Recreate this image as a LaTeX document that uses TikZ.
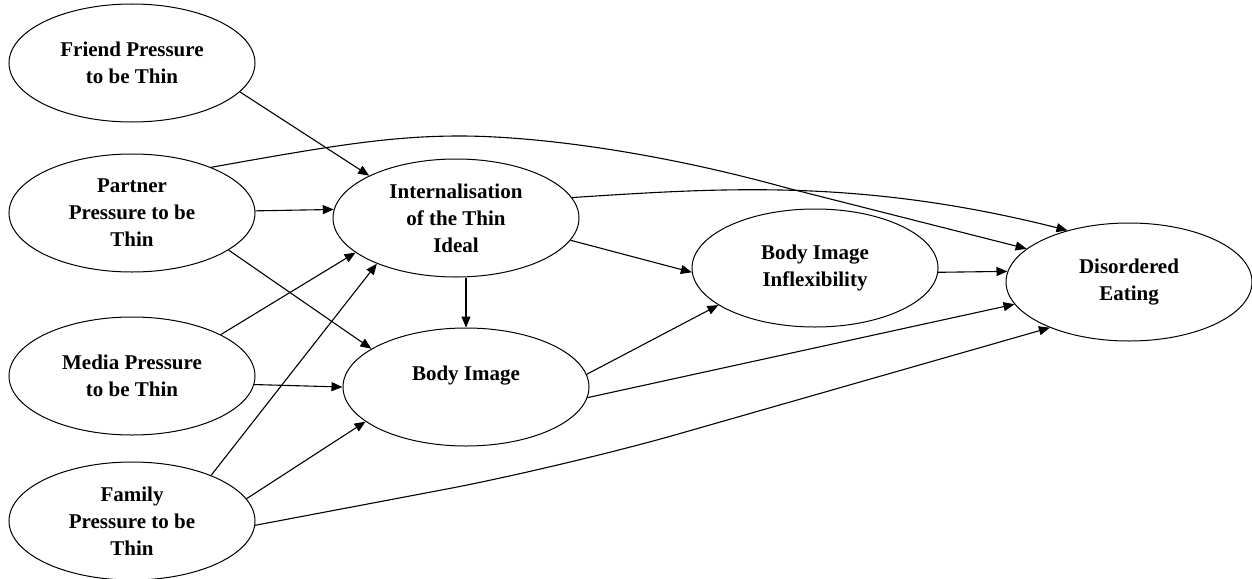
\documentclass[tikz,border=0pt]{standalone}
\usepackage{fontspec}
\setmainfont{Liberation Serif}
\usetikzlibrary{arrows.meta,shapes.geometric}
\begin{document}
\begin{tikzpicture}[x=1pt,y=-1pt,
  var/.style={draw, ellipse, line width=1pt, minimum width=246pt, minimum height=118pt,
    inner sep=0pt, align=center, font=\bfseries\fontsize{21}{27}\selectfont},
  conn/.style={line width=1.1pt, -{Triangle[length=11pt,width=9pt]}}
]
\useasboundingbox (0,0) rectangle (1252,578);
\node[var] (F) at (132,63) {Friend Pressure\\to be Thin};
\node[var] (P) at (132,213) {Partner\\Pressure to be\\Thin};
\node[var] (M) at (132,376) {Media Pressure\\to be Thin};
\node[var] (Fa) at (132,521) {Family\\Pressure to be\\Thin};
\node[var] (I) at (456,218) {Internalisation\\of the Thin\\Ideal};
\node[var, label={[name=Bt, font=\bfseries\fontsize{21}{27}\selectfont, yshift=11pt]center:Body Image}] (B) at (466,387) {};
\node[var] (X) at (815,268) {Body Image\\Inflexibility};
\node[var] (D) at (1129,282) {Disordered\\Eating};

\draw[conn] (F.-15) -- (I.154);
\draw[conn] (P.1) -- (I.176);
\draw[conn] (P.-21) -- (B.158);
\draw[conn] (P.30) .. controls (330,146) and (390,136) .. (460,136)
  .. controls (530,136) and (650,150) .. (787,188) -- (D.162);
\draw[conn] (I.10) .. controls (720,188) and (860,178) .. (D.140);
\draw[conn] (M.25) -- (I.199);
\draw[conn] (M.-4) -- (B.180);
\draw[conn] (Fa.30) -- (I.210);
\draw[conn] (Fa.11) -- (B.199);
\draw[conn, rounded corners=120pt] (Fa.-2) -- (563,467) -- (D.210);
\draw[conn] (B.north |- I.south) -- (B.north);
\draw[conn] (I.-11) -- (X.182);
\draw[conn] (B.6) -- (X.201);
\draw[conn] (B.-5) -- (D.191);
\draw[conn] (X.-2) -- (D.175);
\end{tikzpicture}
\end{document}
